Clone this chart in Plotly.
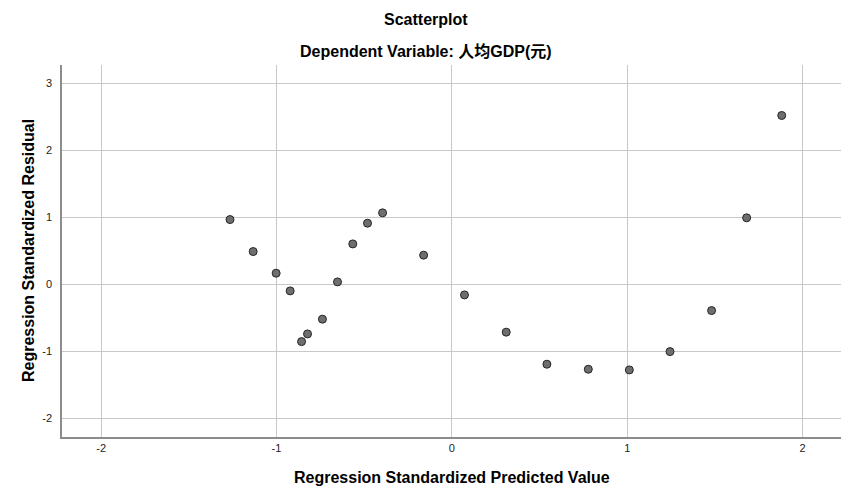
import plotly.graph_objects as go

predicted = [-1.265, -1.133, -1.002, -0.922, -0.857, -0.823, -0.738, -0.652, -0.565, -0.481, -0.395,
             -0.161, 0.072, 0.310, 0.542, 0.778, 1.012, 1.244, 1.481, 1.681, 1.881]
residual = [0.964, 0.487, 0.164, -0.100, -0.857, -0.742, -0.522, 0.034, 0.601, 0.910, 1.064,
            0.433, -0.160, -0.716, -1.194, -1.269, -1.279, -1.006, -0.394, 0.990, 2.517]

x_ticks = [-2, -1, 0, 1, 2]
y_ticks = [-2, -1, 0, 1, 2, 3]

title_main = "Scatterplot"
title_sub = "Dependent Variable: 人均GDP(元)"
x_title = "Regression Standardized Predicted Value"
y_title = "Regression Standardized Residual"

FONT = "Liberation Sans, Arial, Noto Sans CJK SC, sans-serif"

fig = go.Figure()
fig.add_trace(go.Scatter(
    x=predicted, y=residual, mode="markers",
    marker=dict(size=8, color="#6e6e6e", line=dict(color="#262626", width=1)),
    hoverinfo="skip", showlegend=False,
))

axis_common = dict(
    showgrid=True, gridcolor="#c8c8c8", gridwidth=1,
    zeroline=False, showline=True, linecolor="#8c8c8c", linewidth=1.5,
    ticks="", tickfont=dict(family=FONT, size=11, color="#222222"),
    mirror=False, automargin=False,
)

title_x = (418 - 54) / 779

fig.update_layout(
    width=835, height=485,
    margin=dict(l=54, r=2, t=57, b=56),
    paper_bgcolor="white", plot_bgcolor="white",
    font=dict(family=FONT, color="black"),
    xaxis=dict(range=[-2.223, 2.219], tickvals=x_ticks, ticktext=[str(v) for v in x_ticks], **axis_common),
    yaxis=dict(range=[-2.28, 3.27], tickvals=y_ticks, ticktext=[str(v) for v in y_ticks], ticklabelstandoff=6, **axis_common),
    annotations=[
        dict(text="<b>%s</b>" % title_main, x=title_x, y=1.121, xref="paper", yref="paper",
             xanchor="center", yanchor="middle", showarrow=False,
             font=dict(family=FONT, size=16, color="black")),
        dict(text="<b>%s</b>" % title_sub, x=title_x, y=1.035, xref="paper", yref="paper",
             xanchor="center", yanchor="middle", showarrow=False,
             font=dict(family=FONT, size=16, color="black")),
        dict(text="<b>%s</b>" % x_title, x=0.5, y=-0.11, xref="paper", yref="paper",
             xanchor="center", yanchor="middle", showarrow=False,
             font=dict(family=FONT, size=16, color="black")),
        dict(text="<b>%s</b>" % y_title, x=-34 / 779, y=0.5, xref="paper", yref="paper",
             xanchor="center", yanchor="middle", showarrow=False, textangle=-90,
             font=dict(family=FONT, size=16, color="black")),
    ],
)

fig.write_html("out.html")
